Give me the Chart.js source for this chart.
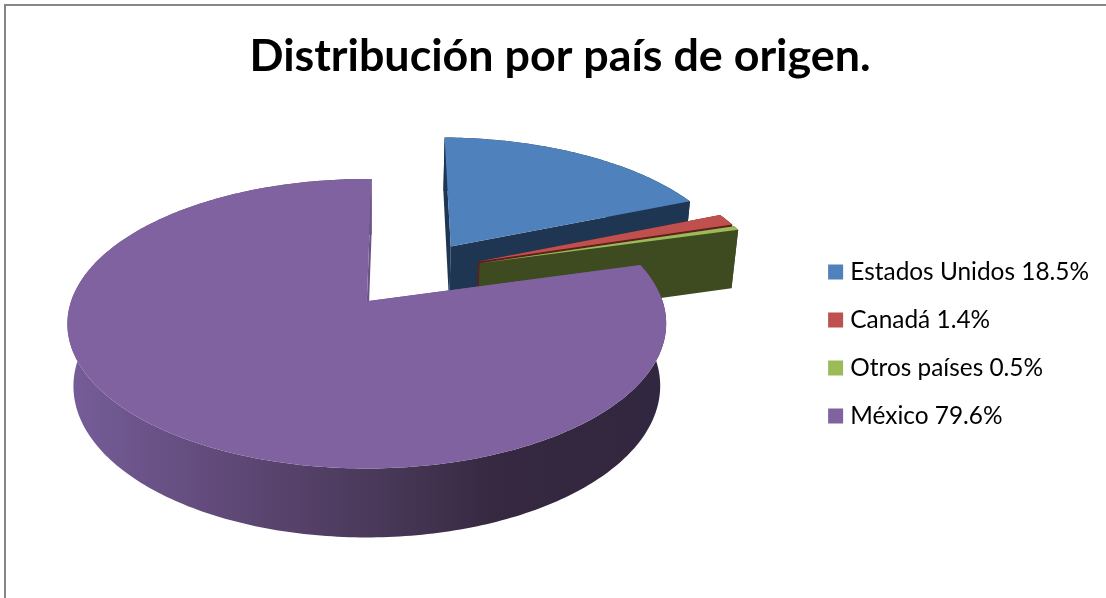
<!DOCTYPE html>
<html><head><meta charset="utf-8">
<style>
html,body{margin:0;padding:0;background:#fff;overflow:hidden;width:1106px;height:598px}
#wrap{position:absolute;left:4px;top:4px;width:1200px;height:700px;border-left:2px solid #868686;border-top:2px solid #868686;box-sizing:border-box}
canvas{position:absolute;left:0;top:0}
</style>
<script src="https://cdn.jsdelivr.net/npm/chart.js@4"></script>
</head><body>
<div id="wrap"><canvas id="c" width="1108" height="592"></canvas></div>
<script>
const categories = ["Estados Unidos 18.5%", "Canadá 1.4%", "Otros países 0.5%", "México 79.6%"];
const values = [18.5, 1.4, 0.5, 79.6];
const colors = ["#4F81BD", "#C0504D", "#9BBB59", "#7F629F"];
const faceColors = ["#1F3653", "#5E1F1D", "#3E4B20", "#6A5387"];
const titleText = "Distribución por país de origen.";

/* view of the 3D pie: camera perspective applied to the library's arc geometry */
const view = {ax:363, ay:296, R:296, k:0.478, H:63, p:0.155, q:0.02, ox:0.156, oy:-0.216};
function project(u, v, d){
  const U = u + view.ox, V = v + view.oy;
  const D = 1 - view.p * V + view.q * d;
  return [view.ax + view.R * U / D, view.ay + (view.R * view.k * V + view.H * d) / D];
}
function pie3d(chart){
  const ctx = chart.ctx, meta = chart.getDatasetMeta(0);
  ctx.save();
  meta.data.forEach((arc, i) => {
    const g = arc.getProps(['startAngle','endAngle','outerRadius']);
    const off = (arc.options.offset || 0) / g.outerRadius;
    const mid = (g.startAngle + g.endAngle) / 2;
    const cu = Math.cos(mid) * off, cv = Math.sin(mid) * off;
    const steps = Math.max(4, Math.ceil((g.endAngle - g.startAngle) * 60));
    const rim = [];
    for (let s = 0; s <= steps; s++){
      const a = g.startAngle + (g.endAngle - g.startAngle) * s / steps;
      rim.push([cu + Math.cos(a), cv + Math.sin(a)]);
    }
    const poly = (pts, fill) => {
      ctx.beginPath();
      pts.forEach((p, n) => n ? ctx.lineTo(p[0], p[1]) : ctx.moveTo(p[0], p[1]));
      ctx.closePath();
      ctx.fillStyle = fill; ctx.fill();
    };
    let wall = faceColors[i];
    if (i === 3){
      wall = ctx.createLinearGradient(70, 0, 660, 0);
      wall.addColorStop(0, "#755C98");
      wall.addColorStop(0.3, "#5C4672");
      wall.addColorStop(0.55, "#463655");
      wall.addColorStop(0.72, "#352840");
      wall.addColorStop(1, "#322740");
    }
    const top = rim.map(p => project(p[0], p[1], 0));
    const bot = rim.map(p => project(p[0], p[1], 1)).reverse();
    poly(top.concat(bot), wall);
    const first = rim[0], last = rim[rim.length - 1];
    poly([project(cu,cv,0), project(first[0],first[1],0), project(first[0],first[1],1), project(cu,cv,1)], faceColors[i]);
    poly([project(cu,cv,0), project(last[0],last[1],0), project(last[0],last[1],1), project(cu,cv,1)], faceColors[i]);
    poly([project(cu,cv,0)].concat(top), colors[i]);
  });
  ctx.restore();
  return false;
}

const legendPlace = { id: 'legendPlace', afterLayout(chart){
  const l = chart.legend;
  l.left -= 15; l.right -= 15; l.top += 42; l.bottom += 42;
} };

new Chart(document.getElementById('c'), {
  type: 'pie',
  data: { labels: categories, datasets: [{ data: values, backgroundColor: colors, borderWidth: 0, offset: [24.5, 24.5, 24.5, 26.7] }] },
  plugins: [{ id: 'pie3d', beforeDatasetsDraw: pie3d }, legendPlace],
  options: {
    responsive: false, animation: false, radius: 100, rotation: 1,
    plugins: {
      tooltip: { enabled: false },
      title: { display: true, text: titleText, color: '#000', font: { family: 'Lato', size: 44.8, weight: 'bold' }, padding: { top: 24, bottom: 20 } },
      legend: { position: 'right', labels: {
        color: '#000', boxWidth: 5, boxHeight: 5, padding: 23.6, font: { family: 'Lato', size: 24.4 },
        generateLabels: c => Chart.overrides.pie.plugins.legend.labels.generateLabels(c).map(l => ({...l, lineWidth: 10, strokeStyle: l.fillStyle}))
      } }
    }
  }
});
</script>
</body></html>
